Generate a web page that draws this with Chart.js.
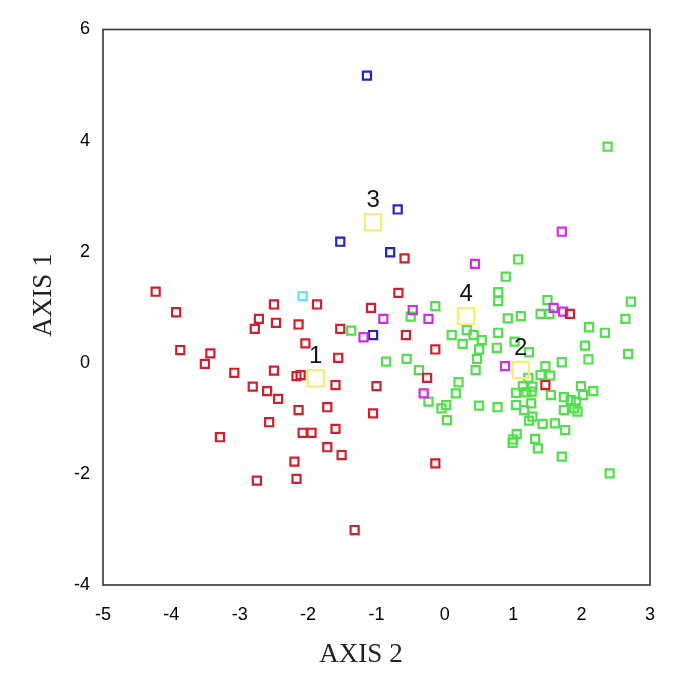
<!DOCTYPE html>
<html>
<head>
<meta charset="utf-8">
<script src="https://cdn.jsdelivr.net/npm/chart.js@4.4.1/dist/chart.umd.min.js"></script>
<style>
  body { margin: 0; background: #fff; }
</style>
</head>
<body>
<canvas id="chart-axes" width="677" height="680"></canvas>
<script>
// group 1 (red)
const redX = [-4.23, -3.93, -3.87, -3.43, -3.51, -3.08, -3.29, -2.81, -2.60, -2.44, -2.57, -2.75,
  -2.50, -2.72, -2.78, -2.47, -2.50, -2.14, -1.87, -2.04, -2.17, -2.11, -1.56, -1.60, -1.72, -2.14,
  -2.08, -1.95, -1.60, -1.72, -1.51, -2.20, -2.17, -1.32, -1.53, -1.08, -1.05, -0.59, -0.68, -0.57,
  -0.14, -0.26, -1.00, -0.14, 1.83, 1.47];
const redY = [1.28, 0.91, 0.23, 0.17, -0.02, -0.18, -1.34, -0.43, -0.51, -0.65, -1.07, -2.12,
  1.05, 0.79, 0.61, 0.72, -0.14, 0.69, 1.05, 0.35, -0.24, -0.22, 0.09, -0.40, -0.80, -0.85,
  -1.26, -1.26, -1.19, -1.52, -1.66, -1.78, -2.09, -3.01, 0.61, 0.99, -0.91, 1.88, 1.26, 0.50,
  0.24, -0.27, -0.42, -1.81, 0.88, -0.40];

// group 2 (green)
const greenX = [2.38, 1.07, 0.89, 0.78, 0.78, 1.50, 2.72, -0.50, -0.14, -1.37, 0.92, 1.11, 1.40, 1.53,
  0.10, 0.32, 0.42, 0.54, 0.26, 0.50, 0.47, 0.45, 0.78, 0.76, 1.02, 1.23, 2.11, 2.34, 2.64, 2.68,
  2.05, 2.10, 1.71, 1.47, -0.86, -0.56, -0.38, -0.24, -0.05, 0.02, 0.03, 0.20, 0.16, 0.50, 0.77,
  1.40, 1.54, 1.22, 1.14, 1.28, 1.04, 1.19, 1.27, 1.55, 1.74, 1.99, 2.17, 2.02, 1.84, 1.92, 1.89,
  1.74, 1.94, 1.04, 1.16, 1.26, 1.28, 1.23, 1.43, 1.61, 1.76, 1.05, 0.99, 1.00, 1.32, 1.36, 1.71, 2.41];
const greenY = [3.89, 1.86, 1.55, 1.27, 1.11, 1.13, 1.10, 0.83, 1.02, 0.58, 0.80, 0.84, 0.88, 0.88,
  0.50, 0.59, 0.50, 0.41, 0.34, 0.24, 0.07, -0.13, 0.54, 0.27, 0.38, 0.19, 0.64, 0.54, 0.79, 0.16,
  0.31, 0.06, 0.01, -0.06, 0.02, 0.07, -0.13, -0.70, -0.82, -0.76, -1.03, -0.35, -0.55, -0.77, -0.80,
  -0.22, -0.23, -0.27, -0.42, -0.43, -0.54, -0.53, -0.52, -0.58, -0.62, -0.42, -0.51, -0.58, -0.67, -0.70, -0.82,
  -0.85, -0.88, -0.76, -0.85, -0.73, -0.97, -1.04, -1.10, -1.09, -1.21, -1.28, -1.44, -1.38, -1.37, -1.54, -1.69, -1.99];

// group 3 (blue)
const blueX = [-1.14, -0.69, -1.53, -0.80, -1.05];
const blueY = [5.17, 2.76, 2.18, 1.99, 0.50];

// group 4 (magenta)
const magentaX = [0.44, 1.71, 1.59, 1.73, -0.90, -0.47, -0.24, -1.19, 0.88, -0.31];
const magentaY = [1.78, 2.36, 0.99, 0.92, 0.79, 0.95, 0.79, 0.46, -0.06, -0.55];

// lone cyan point
const cyanX = [-2.08];
const cyanY = [1.20];

// group centroids
const centroidX = [-1.89, 1.11, -1.05, 0.31];
const centroidY = [-0.28, -0.13, 2.53, 0.84];
const centroidLabels = ["1", "2", "3", "4"];

const xTicks = [-5, -4, -3, -2, -1, 0, 1, 2, 3];
const yTicks = [-4, -2, 0, 2, 4, 6];

function toPoints(xs, ys) {
  return xs.map(function (x, i) {
    return { x: x, y: ys[i] };
  });
}

function squares(label, xs, ys, color, r) {
  return {
    label: label,
    data: toPoints(xs, ys),
    pointStyle: "rect",
    pointRadius: r,
    pointHoverRadius: r,
    pointBorderWidth: 2.2,
    pointBorderColor: color,
    pointBackgroundColor: "rgba(0,0,0,0)",
  };
}

// box around the plot area
const frame = {
  id: "frame",
  afterDraw(chart) {
    const a = chart.chartArea;
    const c = chart.ctx;
    c.save();
    c.strokeStyle = "#333";
    c.lineWidth = 1.6;
    c.strokeRect(a.left, a.top, a.right - a.left, a.bottom - a.top);
    c.restore();
  },
};

// numbers above the centroids + axis titles
const labels = {
  id: "labels",
  afterDatasetsDraw(chart) {
    const c = chart.ctx;
    const meta = chart.getDatasetMeta(0);
    c.save();
    c.fillStyle = "#111";
    c.font = "24px 'Liberation Sans', Arial, sans-serif";
    c.textAlign = "center";
    c.textBaseline = "middle";
    meta.data.forEach(function (el, i) {
      c.fillText(centroidLabels[i], el.x, el.y - 22);
    });

    c.fillStyle = "#222";
    c.font = "27px 'Liberation Serif', 'Times New Roman', serif";
    c.fillText("AXIS 2", 361, 655);
    c.translate(44, 295);
    c.rotate(-Math.PI / 2);
    c.fillText("AXIS 1", 0, 0);
    c.restore();
  },
};

const tickFont = { family: "'Liberation Sans', Arial, sans-serif", size: 18 };

new Chart(document.getElementById("chart-axes").getContext("2d"), {
  type: "scatter",
  data: {
    datasets: [
      squares("centroids", centroidX, centroidY, "#f6ee6c", 11.5),
      squares("red", redX, redY, "#d21f2d", 5.7),
      squares("magenta", magentaX, magentaY, "#d02ee4", 5.7),
      squares("blue", blueX, blueY, "#2323c4", 5.7),
      squares("cyan", cyanX, cyanY, "#5ae6f2", 5.7),
      squares("green", greenX, greenY, "#4fe04a", 5.7),
    ],
  },
  options: {
    responsive: false,
    animation: false,
    events: [],
    layout: { padding: { left: 0, top: 29.5, right: 27, bottom: 0 } },
    plugins: {
      legend: { display: false },
      tooltip: { enabled: false },
    },
    scales: {
      x: {
        type: "linear",
        min: -5,
        max: 3,
        afterBuildTicks(scale) {
          scale.ticks = xTicks.map(function (v) { return { value: v }; });
        },
        afterFit(scale) {
          scale.height = 95;
        },
        grid: { display: false, drawTicks: false },
        border: { display: false },
        ticks: { padding: 19, color: "#000", font: tickFont, maxRotation: 0 },
      },
      y: {
        type: "linear",
        min: -4,
        max: 6,
        afterBuildTicks(scale) {
          scale.ticks = yTicks.map(function (v) { return { value: v }; });
        },
        afterFit(scale) {
          scale.width = 103;
        },
        grid: { display: false, drawTicks: false },
        border: { display: false },
        ticks: { padding: 13, color: "#000", font: tickFont },
      },
    },
  },
  plugins: [frame, labels],
});
</script>
</body>
</html>
